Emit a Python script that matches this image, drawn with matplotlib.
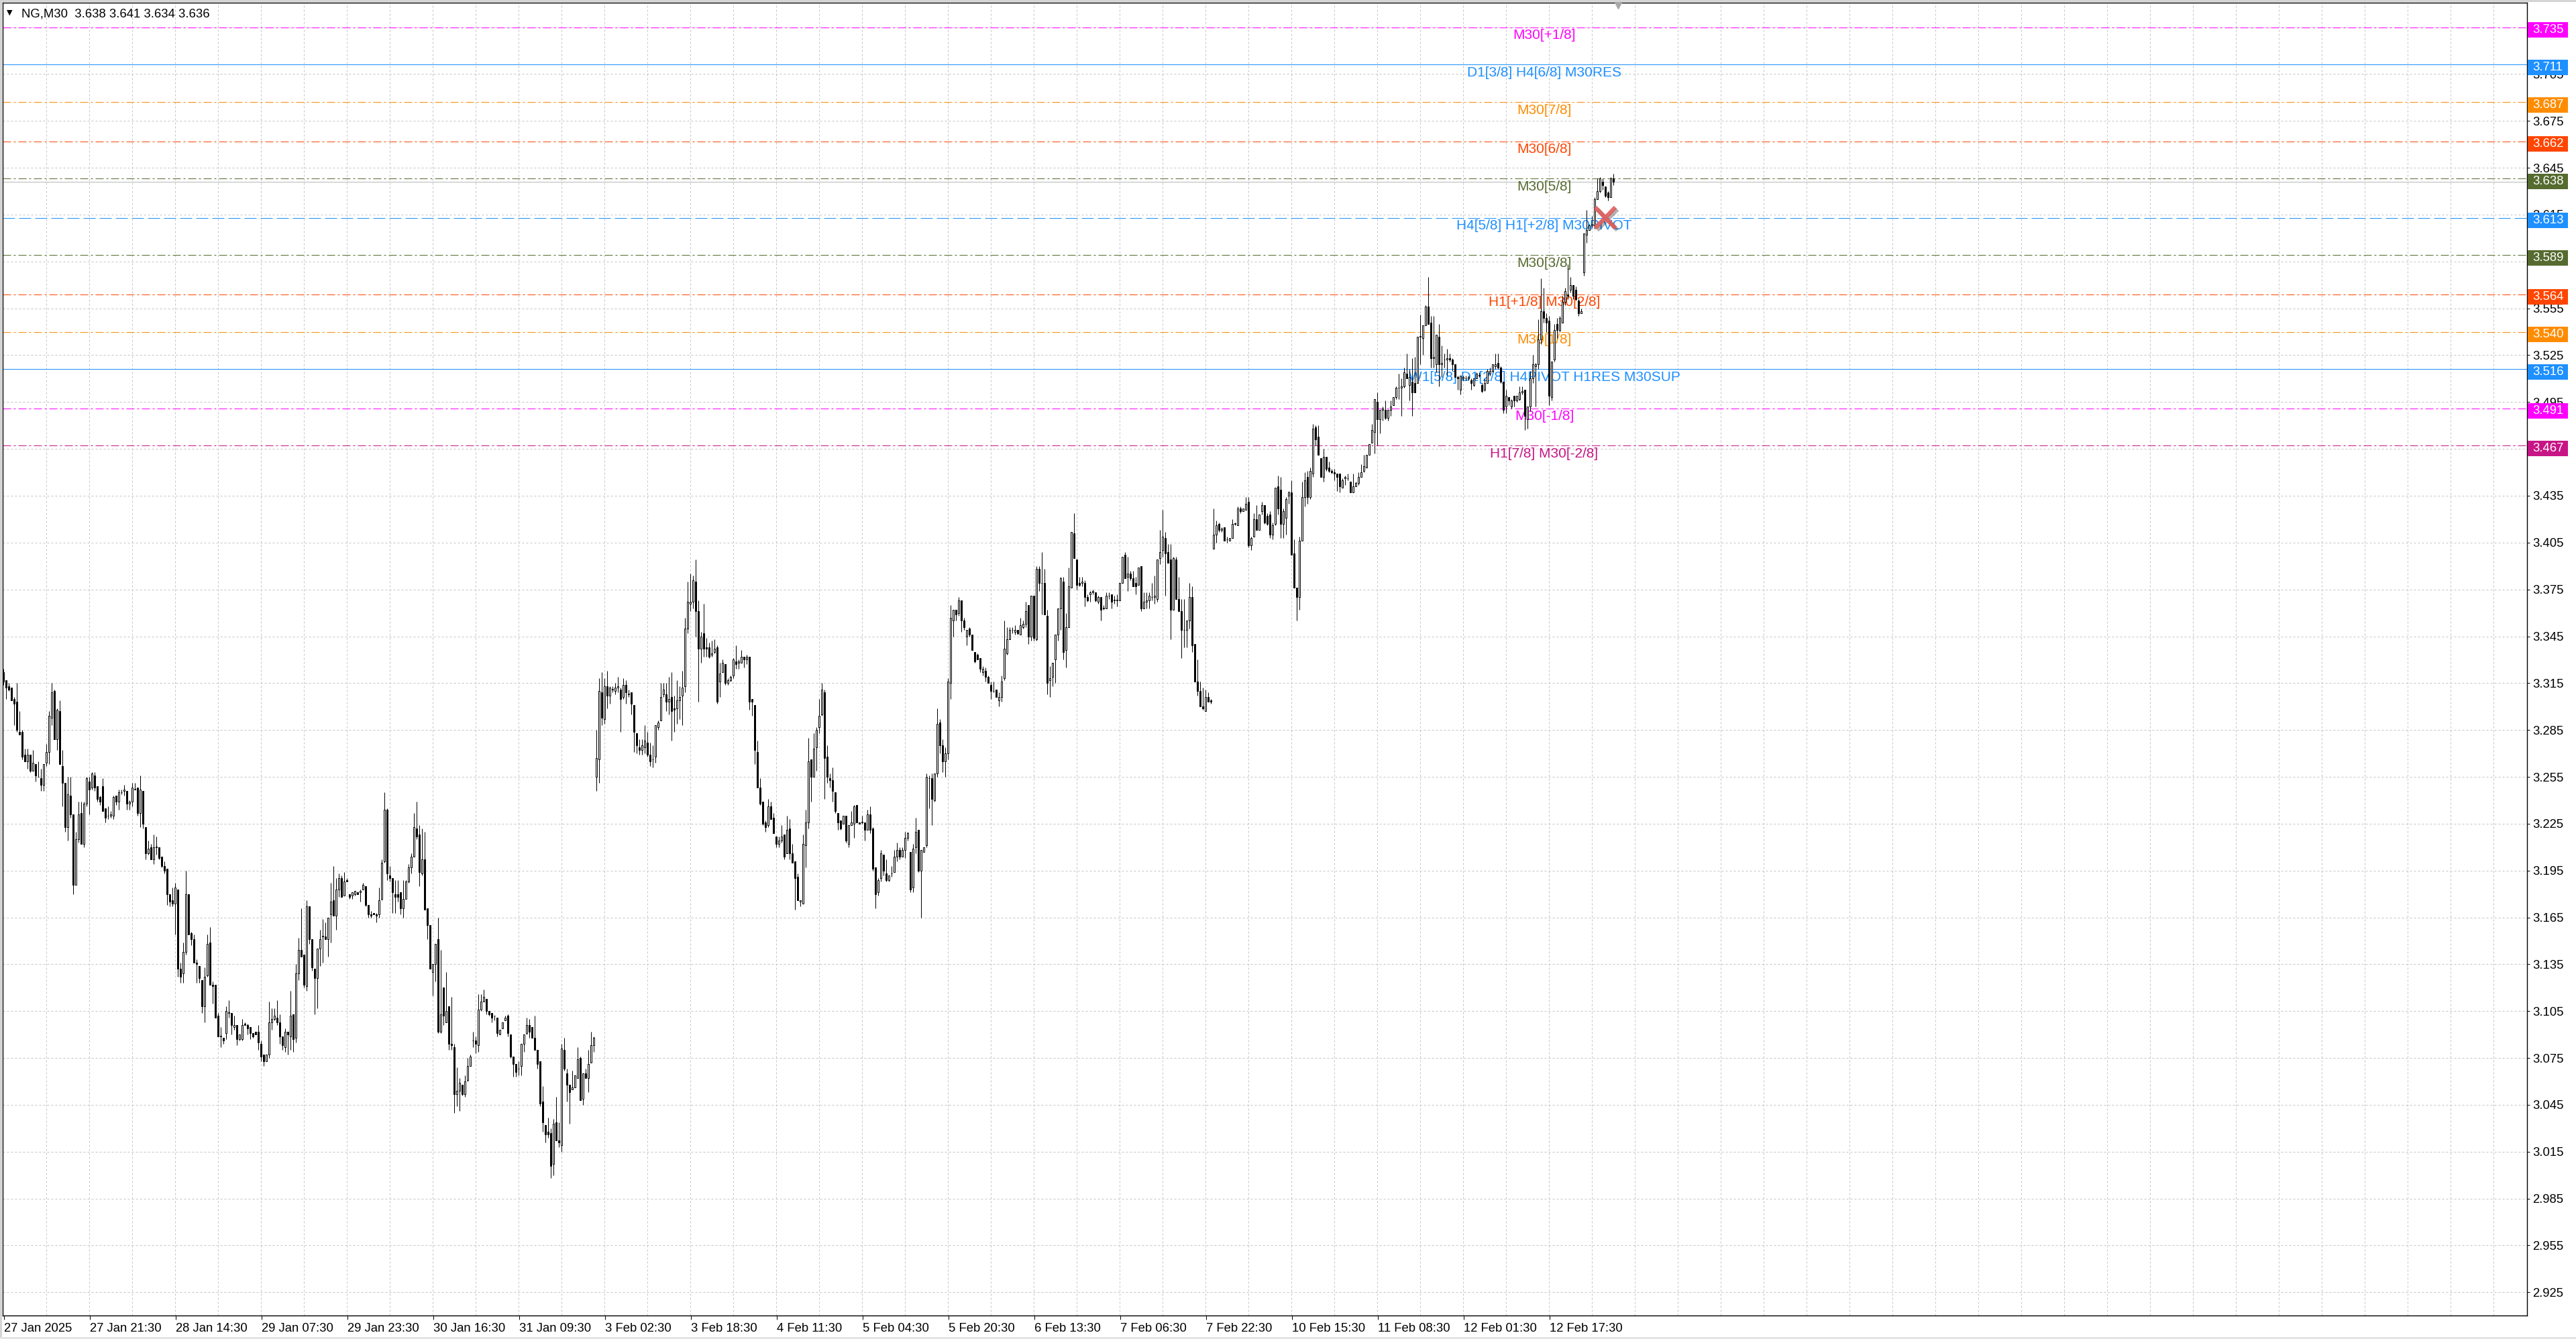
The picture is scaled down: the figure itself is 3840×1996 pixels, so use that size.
import numpy as np
import matplotlib
matplotlib.use("Agg")
import matplotlib.pyplot as plt
import matplotlib.patheffects as pe
from matplotlib.patches import Rectangle

plt.rcParams["font.family"] = ["Liberation Sans", "DejaVu Sans"]
plt.rcParams["lines.scale_dashes"] = False

# NG, M30 bars (one value per bar, 10 per row)
opens = [
    3.322, 3.317, 3.313, 3.312, 3.305, 3.303, 3.284, 3.284, 3.269, 3.265,
    3.269, 3.259, 3.263, 3.255, 3.254, 3.250, 3.264, 3.271, 3.293, 3.310,
    3.279, 3.297, 3.262, 3.251, 3.223, 3.243, 3.231, 3.186, 3.215, 3.232,
    3.212, 3.238, 3.252, 3.248, 3.256, 3.249, 3.242, 3.249, 3.235, 3.230,
    3.230, 3.230, 3.243, 3.239, 3.245, 3.246, 3.246, 3.238, 3.239, 3.247,
    3.248, 3.232, 3.246, 3.223, 3.206, 3.210, 3.202, 3.210, 3.210, 3.204,
    3.198, 3.196, 3.180, 3.176, 3.174, 3.183, 3.132, 3.129, 3.143, 3.180,
    3.155, 3.151, 3.136, 3.134, 3.125, 3.108, 3.128, 3.149, 3.122, 3.122,
    3.102, 3.089, 3.088, 3.091, 3.104, 3.104, 3.095, 3.096, 3.087, 3.087,
    3.097, 3.096, 3.095, 3.091, 3.092, 3.092, 3.084, 3.077, 3.073, 3.077,
    3.098, 3.100, 3.101, 3.098, 3.089, 3.082, 3.092, 3.089, 3.103, 3.088,
    3.129, 3.144, 3.141, 3.121, 3.172, 3.151, 3.132, 3.126, 3.145, 3.153,
    3.153, 3.151, 3.167, 3.176, 3.166, 3.183, 3.190, 3.179, 3.189, 3.180,
    3.179, 3.180, 3.181, 3.181, 3.183, 3.185, 3.173, 3.167, 3.168, 3.167,
    3.167, 3.177, 3.201, 3.234, 3.192, 3.190, 3.180, 3.180, 3.181, 3.171,
    3.177, 3.188, 3.197, 3.204, 3.222, 3.218, 3.193, 3.202, 3.171, 3.160,
    3.130, 3.135, 3.151, 3.092, 3.120, 3.098, 3.108, 3.084, 3.082, 3.052,
    3.054, 3.058, 3.052, 3.061, 3.070, 3.086, 3.086, 3.083, 3.106, 3.111,
    3.113, 3.105, 3.104, 3.102, 3.101, 3.090, 3.094, 3.099, 3.102, 3.090,
    3.076, 3.071, 3.068, 3.070, 3.084, 3.091, 3.096, 3.095, 3.088, 3.080,
    3.073, 3.047, 3.032, 3.028, 3.027, 3.007, 3.034, 3.022, 3.019, 3.080,
    3.065, 3.058, 3.055, 3.056, 3.062, 3.075, 3.049, 3.065, 3.062, 3.072,
    3.083, 3.255, 3.266, 3.309, 3.292, 3.313, 3.307, 3.311, 3.310, 3.312,
    3.311, 3.306, 3.314, 3.308, 3.309, 3.301, 3.283, 3.274, 3.272, 3.274,
    3.277, 3.269, 3.266, 3.268, 3.287, 3.291, 3.308, 3.308, 3.303, 3.306,
    3.299, 3.299, 3.304, 3.307, 3.313, 3.350, 3.366, 3.367, 3.380, 3.361,
    3.337, 3.347, 3.338, 3.338, 3.333, 3.335, 3.338, 3.316, 3.322, 3.327,
    3.315, 3.317, 3.320, 3.329, 3.328, 3.328, 3.332, 3.330, 3.332, 3.305,
    3.301, 3.271, 3.248, 3.239, 3.226, 3.224, 3.236, 3.229, 3.217, 3.212,
    3.214, 3.218, 3.206, 3.222, 3.206, 3.201, 3.191, 3.175, 3.174, 3.211,
    3.226, 3.266, 3.255, 3.274, 3.287, 3.295, 3.309, 3.268, 3.254, 3.253,
    3.245, 3.232, 3.227, 3.225, 3.230, 3.212, 3.224, 3.225, 3.237, 3.226,
    3.226, 3.226, 3.221, 3.231, 3.222, 3.197, 3.181, 3.190, 3.205, 3.193,
    3.189, 3.193, 3.194, 3.204, 3.208, 3.204, 3.208, 3.216, 3.207, 3.184,
    3.210, 3.221, 3.195, 3.207, 3.211, 3.254, 3.254, 3.240, 3.257, 3.290,
    3.275, 3.265, 3.270, 3.315, 3.355, 3.362, 3.360, 3.368, 3.355, 3.345,
    3.350, 3.346, 3.335, 3.333, 3.331, 3.322, 3.323, 3.319, 3.314, 3.310,
    3.311, 3.304, 3.306, 3.318, 3.334, 3.343, 3.349, 3.348, 3.349, 3.346,
    3.351, 3.353, 3.365, 3.345, 3.371, 3.343, 3.388, 3.379, 3.379, 3.358,
    3.317, 3.319, 3.330, 3.346, 3.363, 3.380, 3.336, 3.351, 3.376, 3.411,
    3.394, 3.379, 3.379, 3.379, 3.370, 3.372, 3.373, 3.373, 3.367, 3.370,
    3.363, 3.363, 3.371, 3.372, 3.368, 3.368, 3.368, 3.379, 3.397, 3.383,
    3.385, 3.382, 3.379, 3.378, 3.390, 3.363, 3.367, 3.368, 3.370, 3.370,
    3.369, 3.395, 3.400, 3.408, 3.399, 3.394, 3.362, 3.394, 3.369, 3.361,
    3.349, 3.349, 3.355, 3.370, 3.340, 3.316, 3.310, 3.300, 3.297, 3.306,
    3.304, 3.401, 3.410, 3.417, 3.413, 3.415, 3.407, 3.406, 3.408, 3.417,
    3.416, 3.427, 3.425, 3.426, 3.431, 3.403, 3.409, 3.420, 3.413, 3.425,
    3.429, 3.422, 3.423, 3.410, 3.417, 3.441, 3.439, 3.417, 3.421, 3.435,
    3.437, 3.398, 3.376, 3.370, 3.406, 3.434, 3.447, 3.434, 3.449, 3.479,
    3.473, 3.459, 3.447, 3.460, 3.453, 3.451, 3.450, 3.449, 3.449, 3.440,
    3.446, 3.446, 3.444, 3.437, 3.441, 3.443, 3.447, 3.451, 3.453, 3.461,
    3.469, 3.476, 3.495, 3.484, 3.490, 3.490, 3.485, 3.490, 3.493, 3.498,
    3.504, 3.504, 3.505, 3.513, 3.506, 3.508, 3.507, 3.507, 3.537, 3.536,
    3.544, 3.556, 3.546, 3.523, 3.519, 3.537, 3.519, 3.522, 3.522, 3.523,
    3.522, 3.519, 3.511, 3.503, 3.510, 3.510, 3.510, 3.509, 3.506, 3.510,
    3.512, 3.506, 3.503, 3.507, 3.513, 3.515, 3.518, 3.520, 3.517, 3.508,
    3.492, 3.498, 3.492, 3.499, 3.496, 3.497, 3.501, 3.503, 3.484, 3.492,
    3.510, 3.518, 3.519, 3.535, 3.553, 3.549, 3.547, 3.498, 3.522, 3.545,
    3.541, 3.546, 3.559, 3.564, 3.567, 3.570, 3.567, 3.560, 3.552, 3.578,
    3.602, 3.605, 3.608, 3.608, 3.625, 3.630, 3.636, 3.633, 3.629, 3.626,
    3.638,
]
highs = [
    3.324, 3.317, 3.315, 3.312, 3.306, 3.315, 3.297, 3.285, 3.273, 3.273,
    3.269, 3.272, 3.263, 3.265, 3.260, 3.263, 3.276, 3.297, 3.315, 3.311,
    3.299, 3.304, 3.272, 3.251, 3.255, 3.255, 3.231, 3.220, 3.239, 3.239,
    3.239, 3.255, 3.255, 3.258, 3.258, 3.249, 3.243, 3.254, 3.235, 3.236,
    3.233, 3.243, 3.243, 3.247, 3.247, 3.250, 3.246, 3.240, 3.251, 3.251,
    3.248, 3.256, 3.246, 3.223, 3.214, 3.212, 3.218, 3.217, 3.210, 3.204,
    3.201, 3.196, 3.180, 3.184, 3.187, 3.183, 3.136, 3.149, 3.195, 3.180,
    3.156, 3.154, 3.138, 3.134, 3.125, 3.133, 3.154, 3.159, 3.124, 3.122,
    3.104, 3.095, 3.088, 3.108, 3.112, 3.104, 3.102, 3.096, 3.090, 3.100,
    3.098, 3.097, 3.095, 3.091, 3.092, 3.096, 3.086, 3.077, 3.077, 3.111,
    3.107, 3.107, 3.112, 3.103, 3.089, 3.094, 3.092, 3.118, 3.103, 3.135,
    3.152, 3.171, 3.141, 3.176, 3.172, 3.151, 3.132, 3.145, 3.157, 3.164,
    3.162, 3.165, 3.187, 3.198, 3.190, 3.193, 3.192, 3.194, 3.190, 3.180,
    3.181, 3.182, 3.181, 3.183, 3.187, 3.185, 3.173, 3.169, 3.168, 3.168,
    3.184, 3.202, 3.245, 3.235, 3.198, 3.190, 3.189, 3.189, 3.181, 3.189,
    3.189, 3.199, 3.206, 3.232, 3.239, 3.224, 3.222, 3.220, 3.171, 3.160,
    3.135, 3.148, 3.165, 3.144, 3.120, 3.130, 3.108, 3.114, 3.084, 3.069,
    3.062, 3.058, 3.064, 3.075, 3.077, 3.092, 3.089, 3.116, 3.116, 3.119,
    3.113, 3.105, 3.104, 3.102, 3.101, 3.093, 3.098, 3.102, 3.103, 3.090,
    3.076, 3.071, 3.073, 3.084, 3.090, 3.101, 3.100, 3.095, 3.102, 3.080,
    3.073, 3.057, 3.032, 3.037, 3.030, 3.036, 3.050, 3.034, 3.084, 3.088,
    3.068, 3.058, 3.067, 3.064, 3.082, 3.076, 3.065, 3.068, 3.080, 3.092,
    3.089, 3.285, 3.318, 3.322, 3.318, 3.323, 3.313, 3.313, 3.315, 3.319,
    3.312, 3.318, 3.317, 3.311, 3.309, 3.301, 3.283, 3.279, 3.279, 3.288,
    3.284, 3.277, 3.275, 3.288, 3.291, 3.315, 3.315, 3.315, 3.319, 3.322,
    3.307, 3.317, 3.313, 3.323, 3.357, 3.380, 3.385, 3.384, 3.394, 3.368,
    3.348, 3.366, 3.344, 3.341, 3.342, 3.343, 3.339, 3.328, 3.330, 3.327,
    3.318, 3.320, 3.331, 3.339, 3.330, 3.336, 3.332, 3.333, 3.332, 3.305,
    3.301, 3.278, 3.254, 3.239, 3.227, 3.241, 3.239, 3.232, 3.217, 3.217,
    3.224, 3.218, 3.230, 3.228, 3.212, 3.201, 3.193, 3.176, 3.218, 3.234,
    3.280, 3.266, 3.283, 3.287, 3.305, 3.315, 3.311, 3.275, 3.257, 3.261,
    3.245, 3.232, 3.227, 3.230, 3.230, 3.224, 3.233, 3.237, 3.237, 3.226,
    3.230, 3.226, 3.234, 3.236, 3.223, 3.197, 3.190, 3.208, 3.205, 3.202,
    3.192, 3.198, 3.208, 3.213, 3.210, 3.210, 3.220, 3.220, 3.207, 3.212,
    3.229, 3.221, 3.208, 3.210, 3.257, 3.256, 3.257, 3.257, 3.299, 3.292,
    3.279, 3.274, 3.318, 3.365, 3.362, 3.362, 3.370, 3.368, 3.357, 3.349,
    3.351, 3.346, 3.335, 3.334, 3.331, 3.326, 3.325, 3.320, 3.316, 3.316,
    3.311, 3.309, 3.320, 3.355, 3.351, 3.351, 3.351, 3.352, 3.349, 3.357,
    3.355, 3.367, 3.365, 3.371, 3.371, 3.390, 3.390, 3.399, 3.388, 3.362,
    3.326, 3.328, 3.346, 3.363, 3.383, 3.383, 3.360, 3.389, 3.412, 3.424,
    3.394, 3.383, 3.383, 3.381, 3.372, 3.374, 3.375, 3.373, 3.371, 3.370,
    3.365, 3.373, 3.373, 3.372, 3.371, 3.372, 3.379, 3.396, 3.399, 3.396,
    3.387, 3.387, 3.383, 3.389, 3.390, 3.373, 3.373, 3.373, 3.379, 3.384,
    3.394, 3.413, 3.426, 3.412, 3.404, 3.404, 3.396, 3.396, 3.383, 3.369,
    3.369, 3.355, 3.379, 3.377, 3.340, 3.330, 3.316, 3.312, 3.311, 3.309,
    3.305, 3.427, 3.419, 3.418, 3.415, 3.415, 3.409, 3.408, 3.420, 3.418,
    3.428, 3.428, 3.427, 3.434, 3.434, 3.409, 3.424, 3.429, 3.423, 3.431,
    3.429, 3.424, 3.425, 3.418, 3.440, 3.448, 3.447, 3.427, 3.434, 3.438,
    3.445, 3.407, 3.376, 3.409, 3.444, 3.450, 3.451, 3.453, 3.481, 3.480,
    3.480, 3.459, 3.465, 3.460, 3.457, 3.452, 3.452, 3.449, 3.449, 3.446,
    3.448, 3.449, 3.444, 3.449, 3.444, 3.450, 3.455, 3.461, 3.461, 3.468,
    3.481, 3.497, 3.501, 3.490, 3.492, 3.496, 3.490, 3.496, 3.498, 3.505,
    3.513, 3.510, 3.517, 3.526, 3.516, 3.523, 3.524, 3.537, 3.551, 3.544,
    3.557, 3.575, 3.550, 3.550, 3.538, 3.545, 3.531, 3.526, 3.529, 3.526,
    3.523, 3.519, 3.512, 3.512, 3.512, 3.512, 3.512, 3.510, 3.510, 3.514,
    3.514, 3.507, 3.510, 3.516, 3.517, 3.519, 3.526, 3.526, 3.518, 3.508,
    3.503, 3.498, 3.497, 3.499, 3.499, 3.505, 3.505, 3.503, 3.492, 3.515,
    3.525, 3.520, 3.548, 3.574, 3.568, 3.552, 3.550, 3.521, 3.545, 3.549,
    3.550, 3.563, 3.568, 3.583, 3.575, 3.570, 3.569, 3.561, 3.555, 3.603,
    3.618, 3.609, 3.614, 3.626, 3.638, 3.639, 3.638, 3.633, 3.630, 3.639,
    3.641,
]
lows = [
    3.314, 3.305, 3.310, 3.304, 3.288, 3.284, 3.282, 3.266, 3.265, 3.260,
    3.258, 3.259, 3.252, 3.255, 3.246, 3.246, 3.262, 3.263, 3.288, 3.279,
    3.272, 3.263, 3.236, 3.220, 3.214, 3.229, 3.180, 3.186, 3.213, 3.212,
    3.210, 3.236, 3.231, 3.247, 3.246, 3.239, 3.237, 3.233, 3.226, 3.228,
    3.229, 3.228, 3.237, 3.234, 3.244, 3.243, 3.234, 3.234, 3.236, 3.247,
    3.230, 3.223, 3.222, 3.202, 3.205, 3.202, 3.199, 3.205, 3.202, 3.197,
    3.193, 3.173, 3.172, 3.172, 3.154, 3.127, 3.123, 3.123, 3.141, 3.154,
    3.147, 3.136, 3.123, 3.123, 3.104, 3.098, 3.127, 3.122, 3.110, 3.101,
    3.089, 3.082, 3.084, 3.087, 3.101, 3.090, 3.093, 3.083, 3.086, 3.086,
    3.096, 3.090, 3.087, 3.088, 3.090, 3.080, 3.073, 3.070, 3.073, 3.075,
    3.093, 3.099, 3.096, 3.084, 3.080, 3.079, 3.077, 3.080, 3.079, 3.085,
    3.125, 3.140, 3.120, 3.118, 3.148, 3.131, 3.103, 3.107, 3.134, 3.136,
    3.151, 3.140, 3.149, 3.166, 3.157, 3.178, 3.178, 3.179, 3.188, 3.177,
    3.177, 3.179, 3.180, 3.175, 3.183, 3.172, 3.165, 3.165, 3.167, 3.162,
    3.165, 3.176, 3.200, 3.189, 3.188, 3.168, 3.168, 3.175, 3.167, 3.165,
    3.177, 3.187, 3.193, 3.204, 3.215, 3.185, 3.192, 3.170, 3.151, 3.132,
    3.115, 3.124, 3.091, 3.091, 3.096, 3.098, 3.080, 3.080, 3.040, 3.044,
    3.041, 3.051, 3.050, 3.060, 3.070, 3.082, 3.078, 3.079, 3.105, 3.111,
    3.103, 3.102, 3.098, 3.099, 3.089, 3.090, 3.094, 3.099, 3.089, 3.075,
    3.063, 3.063, 3.064, 3.064, 3.079, 3.090, 3.088, 3.088, 3.080, 3.068,
    3.044, 3.028, 3.021, 3.024, 2.998, 3.000, 3.022, 3.018, 3.015, 3.067,
    3.047, 3.033, 3.055, 3.056, 3.062, 3.048, 3.045, 3.062, 3.053, 3.072,
    3.079, 3.246, 3.251, 3.288, 3.289, 3.299, 3.302, 3.309, 3.308, 3.309,
    3.284, 3.305, 3.302, 3.306, 3.295, 3.271, 3.270, 3.269, 3.269, 3.270,
    3.268, 3.262, 3.261, 3.264, 3.285, 3.291, 3.306, 3.297, 3.295, 3.278,
    3.284, 3.289, 3.292, 3.288, 3.309, 3.347, 3.361, 3.363, 3.345, 3.303,
    3.328, 3.332, 3.332, 3.331, 3.332, 3.334, 3.302, 3.306, 3.322, 3.314,
    3.314, 3.316, 3.318, 3.324, 3.324, 3.328, 3.325, 3.327, 3.298, 3.294,
    3.263, 3.248, 3.237, 3.224, 3.220, 3.223, 3.228, 3.219, 3.210, 3.210,
    3.213, 3.202, 3.206, 3.202, 3.200, 3.170, 3.176, 3.172, 3.174, 3.197,
    3.222, 3.239, 3.255, 3.259, 3.283, 3.294, 3.241, 3.251, 3.248, 3.239,
    3.232, 3.221, 3.221, 3.225, 3.213, 3.210, 3.224, 3.216, 3.226, 3.225,
    3.225, 3.214, 3.221, 3.219, 3.195, 3.171, 3.179, 3.188, 3.192, 3.188,
    3.188, 3.191, 3.194, 3.201, 3.202, 3.204, 3.203, 3.214, 3.181, 3.181,
    3.206, 3.194, 3.165, 3.207, 3.210, 3.235, 3.224, 3.239, 3.255, 3.270,
    3.258, 3.255, 3.266, 3.305, 3.345, 3.355, 3.358, 3.348, 3.349, 3.339,
    3.345, 3.336, 3.328, 3.330, 3.322, 3.320, 3.316, 3.315, 3.305, 3.309,
    3.306, 3.300, 3.303, 3.317, 3.333, 3.343, 3.347, 3.346, 3.346, 3.346,
    3.350, 3.351, 3.340, 3.342, 3.342, 3.342, 3.374, 3.359, 3.359, 3.308,
    3.306, 3.313, 3.315, 3.342, 3.349, 3.330, 3.325, 3.351, 3.376, 3.395,
    3.375, 3.377, 3.377, 3.364, 3.367, 3.367, 3.372, 3.367, 3.366, 3.355,
    3.362, 3.363, 3.369, 3.363, 3.366, 3.364, 3.368, 3.379, 3.382, 3.374,
    3.381, 3.377, 3.372, 3.378, 3.361, 3.363, 3.363, 3.363, 3.368, 3.366,
    3.367, 3.391, 3.396, 3.371, 3.392, 3.343, 3.362, 3.369, 3.361, 3.331,
    3.338, 3.338, 3.350, 3.335, 3.316, 3.307, 3.300, 3.298, 3.297, 3.303,
    3.302, 3.401, 3.405, 3.412, 3.412, 3.406, 3.405, 3.406, 3.408, 3.416,
    3.416, 3.424, 3.425, 3.426, 3.402, 3.400, 3.409, 3.413, 3.413, 3.423,
    3.417, 3.416, 3.408, 3.407, 3.416, 3.423, 3.408, 3.408, 3.410, 3.430,
    3.397, 3.376, 3.355, 3.362, 3.406, 3.428, 3.430, 3.433, 3.447, 3.467,
    3.461, 3.447, 3.444, 3.451, 3.450, 3.449, 3.445, 3.438, 3.437, 3.440,
    3.442, 3.445, 3.437, 3.437, 3.441, 3.442, 3.447, 3.450, 3.453, 3.461,
    3.469, 3.462, 3.467, 3.475, 3.483, 3.484, 3.483, 3.486, 3.493, 3.497,
    3.497, 3.486, 3.504, 3.510, 3.496, 3.486, 3.501, 3.507, 3.519, 3.525,
    3.544, 3.545, 3.517, 3.517, 3.514, 3.505, 3.511, 3.517, 3.512, 3.521,
    3.515, 3.511, 3.503, 3.500, 3.509, 3.509, 3.509, 3.503, 3.505, 3.510,
    3.511, 3.501, 3.502, 3.507, 3.512, 3.514, 3.516, 3.516, 3.507, 3.488,
    3.488, 3.493, 3.491, 3.492, 3.495, 3.496, 3.500, 3.477, 3.478, 3.489,
    3.507, 3.492, 3.516, 3.532, 3.546, 3.540, 3.493, 3.496, 3.521, 3.536,
    3.540, 3.546, 3.557, 3.561, 3.565, 3.561, 3.560, 3.550, 3.552, 3.576,
    3.597, 3.605, 3.607, 3.606, 3.625, 3.629, 3.631, 3.626, 3.624, 3.626,
    3.634,
]
closes = [
    3.316, 3.312, 3.311, 3.304, 3.302, 3.285, 3.282, 3.268, 3.265, 3.269,
    3.259, 3.264, 3.256, 3.255, 3.250, 3.263, 3.271, 3.294, 3.309, 3.279,
    3.298, 3.263, 3.251, 3.223, 3.244, 3.231, 3.186, 3.215, 3.231, 3.212,
    3.238, 3.254, 3.247, 3.257, 3.248, 3.241, 3.239, 3.233, 3.229, 3.230,
    3.231, 3.242, 3.239, 3.245, 3.245, 3.247, 3.238, 3.239, 3.248, 3.247,
    3.232, 3.247, 3.225, 3.206, 3.209, 3.202, 3.210, 3.210, 3.203, 3.198,
    3.195, 3.180, 3.175, 3.174, 3.184, 3.132, 3.127, 3.143, 3.180, 3.154,
    3.151, 3.136, 3.135, 3.126, 3.108, 3.127, 3.148, 3.122, 3.121, 3.101,
    3.089, 3.089, 3.086, 3.105, 3.104, 3.096, 3.096, 3.087, 3.090, 3.096,
    3.096, 3.094, 3.091, 3.089, 3.090, 3.085, 3.076, 3.073, 3.077, 3.098,
    3.100, 3.102, 3.098, 3.089, 3.083, 3.092, 3.090, 3.102, 3.087, 3.129,
    3.144, 3.140, 3.122, 3.172, 3.151, 3.133, 3.126, 3.145, 3.151, 3.153,
    3.151, 3.165, 3.175, 3.166, 3.183, 3.190, 3.178, 3.188, 3.188, 3.178,
    3.181, 3.182, 3.180, 3.182, 3.186, 3.173, 3.167, 3.166, 3.167, 3.166,
    3.176, 3.200, 3.234, 3.193, 3.190, 3.181, 3.178, 3.178, 3.171, 3.177,
    3.188, 3.197, 3.204, 3.223, 3.217, 3.194, 3.202, 3.170, 3.160, 3.132,
    3.135, 3.148, 3.092, 3.103, 3.102, 3.105, 3.084, 3.083, 3.052, 3.054,
    3.059, 3.052, 3.060, 3.070, 3.076, 3.086, 3.084, 3.106, 3.111, 3.114,
    3.105, 3.103, 3.101, 3.102, 3.091, 3.093, 3.098, 3.101, 3.091, 3.076,
    3.071, 3.066, 3.068, 3.084, 3.090, 3.096, 3.092, 3.088, 3.080, 3.071,
    3.046, 3.034, 3.026, 3.026, 3.006, 3.033, 3.022, 3.021, 3.081, 3.068,
    3.058, 3.053, 3.056, 3.064, 3.074, 3.048, 3.065, 3.062, 3.071, 3.083,
    3.088, 3.267, 3.310, 3.293, 3.313, 3.307, 3.312, 3.311, 3.312, 3.313,
    3.305, 3.314, 3.309, 3.308, 3.302, 3.284, 3.275, 3.272, 3.275, 3.278,
    3.269, 3.265, 3.266, 3.288, 3.290, 3.306, 3.311, 3.303, 3.305, 3.297,
    3.298, 3.304, 3.306, 3.312, 3.350, 3.367, 3.367, 3.381, 3.361, 3.337,
    3.345, 3.337, 3.337, 3.332, 3.334, 3.337, 3.303, 3.321, 3.328, 3.315,
    3.317, 3.319, 3.330, 3.327, 3.329, 3.332, 3.330, 3.332, 3.303, 3.303,
    3.272, 3.248, 3.238, 3.225, 3.223, 3.236, 3.228, 3.219, 3.212, 3.214,
    3.217, 3.204, 3.221, 3.206, 3.200, 3.190, 3.176, 3.176, 3.212, 3.226,
    3.265, 3.255, 3.273, 3.285, 3.294, 3.311, 3.267, 3.255, 3.253, 3.246,
    3.233, 3.226, 3.222, 3.230, 3.214, 3.224, 3.226, 3.236, 3.226, 3.225,
    3.226, 3.221, 3.231, 3.221, 3.196, 3.180, 3.189, 3.206, 3.195, 3.189,
    3.192, 3.193, 3.204, 3.208, 3.204, 3.208, 3.216, 3.219, 3.183, 3.209,
    3.220, 3.195, 3.208, 3.210, 3.255, 3.254, 3.241, 3.257, 3.289, 3.275,
    3.265, 3.270, 3.316, 3.357, 3.362, 3.359, 3.368, 3.355, 3.351, 3.349,
    3.346, 3.336, 3.329, 3.330, 3.324, 3.324, 3.319, 3.315, 3.310, 3.310,
    3.306, 3.306, 3.316, 3.337, 3.343, 3.349, 3.349, 3.349, 3.347, 3.352,
    3.353, 3.361, 3.345, 3.371, 3.344, 3.388, 3.379, 3.379, 3.359, 3.315,
    3.318, 3.328, 3.346, 3.363, 3.382, 3.335, 3.351, 3.377, 3.412, 3.395,
    3.378, 3.378, 3.380, 3.370, 3.368, 3.373, 3.374, 3.368, 3.370, 3.362,
    3.363, 3.371, 3.371, 3.367, 3.368, 3.368, 3.379, 3.396, 3.382, 3.385,
    3.382, 3.377, 3.377, 3.389, 3.363, 3.367, 3.368, 3.371, 3.370, 3.371,
    3.394, 3.399, 3.409, 3.398, 3.392, 3.362, 3.395, 3.369, 3.361, 3.349,
    3.349, 3.355, 3.370, 3.339, 3.316, 3.310, 3.300, 3.299, 3.306, 3.303,
    3.303, 3.410, 3.416, 3.413, 3.414, 3.406, 3.407, 3.408, 3.417, 3.417,
    3.427, 3.425, 3.427, 3.430, 3.403, 3.408, 3.420, 3.413, 3.423, 3.429,
    3.418, 3.417, 3.410, 3.416, 3.440, 3.427, 3.417, 3.425, 3.433, 3.437,
    3.397, 3.376, 3.370, 3.406, 3.434, 3.445, 3.434, 3.451, 3.478, 3.471,
    3.461, 3.447, 3.460, 3.452, 3.451, 3.450, 3.449, 3.447, 3.441, 3.445,
    3.447, 3.446, 3.437, 3.441, 3.443, 3.447, 3.450, 3.454, 3.461, 3.468,
    3.477, 3.497, 3.484, 3.490, 3.491, 3.485, 3.490, 3.492, 3.498, 3.504,
    3.504, 3.505, 3.514, 3.510, 3.511, 3.501, 3.501, 3.537, 3.537, 3.544,
    3.556, 3.545, 3.523, 3.524, 3.538, 3.519, 3.520, 3.522, 3.523, 3.522,
    3.519, 3.511, 3.510, 3.512, 3.511, 3.510, 3.511, 3.507, 3.510, 3.513,
    3.512, 3.502, 3.507, 3.515, 3.515, 3.519, 3.519, 3.517, 3.508, 3.490,
    3.499, 3.496, 3.496, 3.496, 3.499, 3.501, 3.502, 3.486, 3.492, 3.510,
    3.519, 3.519, 3.535, 3.553, 3.549, 3.546, 3.499, 3.521, 3.541, 3.541,
    3.549, 3.559, 3.566, 3.563, 3.570, 3.563, 3.561, 3.552, 3.553, 3.603,
    3.605, 3.608, 3.609, 3.625, 3.630, 3.638, 3.634, 3.627, 3.626, 3.638,
    3.636,
]

time_labels = ["27 Jan 2025", "27 Jan 21:30", "28 Jan 14:30", "29 Jan 07:30",
               "29 Jan 23:30", "30 Jan 16:30", "31 Jan 09:30", "3 Feb 02:30",
               "3 Feb 18:30", "4 Feb 11:30", "5 Feb 04:30", "5 Feb 20:30",
               "6 Feb 13:30", "7 Feb 06:30", "7 Feb 22:30", "10 Feb 15:30",
               "11 Feb 08:30", "12 Feb 01:30", "12 Feb 17:30"]
bars_per_label = 32

price_ticks = [2.925, 2.955, 2.985, 3.015, 3.045, 3.075, 3.105, 3.135, 3.165,
               3.195, 3.225, 3.255, 3.285, 3.315, 3.345, 3.375, 3.405, 3.435,
               3.465, 3.495, 3.525, 3.555, 3.585, 3.615, 3.645, 3.675, 3.705,
               3.735]

# Murrey math levels drawn by the indicator
levels = [3.735, 3.711, 3.687, 3.662, 3.638, 3.613, 3.589, 3.564, 3.540,
          3.516, 3.491, 3.467]
level_names = ["M30[+1/8]", "D1[3/8] H4[6/8] M30RES", "M30[7/8]", "M30[6/8]",
               "M30[5/8]", "H4[5/8] H1[+2/8] M30PIVOT", "M30[3/8]",
               "H1[+1/8] M30[2/8]", "M30[1/8]",
               "W1[5/8] D1[2/8] H4PIVOT H1RES M30SUP", "M30[-1/8]",
               "H1[7/8] M30[-2/8]"]
level_colors = ["#FF00FF", "#1E90FF", "#FF8C00", "#FF4500", "#556B2F",
                "#1E90FF", "#556B2F", "#FF4500", "#FF8C00", "#1E90FF",
                "#FF00FF", "#C71585"]
level_styles = ["dashdot", "solid", "dashdot", "dashdot", "dashdot", "dash",
                "dashdot", "dashdot", "dashdot", "solid", "dashdot", "dashdot"]

# ---------------------------------------------------------------------------
W, H = 3840, 1996
L, R, T, B = 4, 3767, 4, 1961          # plot frame in pixels
fig = plt.figure(figsize=(W / 100, H / 100), dpi=100)
fig.patch.set_facecolor("white")
ax = fig.add_axes([L / W, (H - B) / H, (R - L) / W, (B - T) / H])

ylo, yhi = 2.9101, 3.7507
ax.set_xlim(-0.25, 940.5)
ax.set_ylim(ylo, yhi)
PX = (yhi - ylo) / (B - T)              # price per pixel

px1 = 0.72                              # one pixel in points
dashes = {"solid": "-",
          "dashdot": (0, (12 * px1, 4 * px1, 3 * px1, 4 * px1)),
          "dash": (0, (18 * px1, 6 * px1))}

# grid
for p in price_ticks:
    ax.axhline(p, color="#C4C4C4", lw=px1, ls=(0, (3 * px1, 3 * px1)), zorder=0.5)
for v in range(16, 941, 16):
    ax.axvline(v, color="#C4C4C4", lw=px1, ls=(0, (3 * px1, 3 * px1)), zorder=0.5)

# levels
for lv, name, col, st in zip(levels, level_names, level_colors, level_styles):
    ax.axhline(lv, color=col, lw=px1, ls=dashes[st], zorder=1)
    ax.text(574.25, lv - 12 * PX, name, color=col, fontsize=15,
            ha="center", va="center", zorder=2)

# bid line
ax.axhline(closes[-1], color="#B8B8B8", lw=px1, zorder=1)

# candles
o = np.array(opens)
h = np.array(highs)
lo = np.array(lows)
c = np.array(closes)
x = np.arange(len(c))
hi_ = np.maximum(h, np.maximum(o, c))
lo_ = np.minimum(lo, np.minimum(o, c))
up = c >= o
body_lo = np.minimum(o, c)
body_h = np.maximum(np.abs(c - o), 0.0002)
ax.vlines(x, lo_, hi_, color="black", lw=px1, zorder=3)
ax.bar(x[up], body_h[up], bottom=body_lo[up], width=0.5, color="white",
       edgecolor="black", linewidth=px1, zorder=4)
ax.bar(x[~up], body_h[~up], bottom=body_lo[~up], width=0.5, color="black",
       edgecolor="black", linewidth=px1, zorder=4)

# red cross on the pivot
ax.plot(597, levels[5], marker="x", ms=22, mew=4.5, color="#E05C5C",
        alpha=0.9, zorder=12,
        path_effects=[pe.SimpleLineShadow(offset=(2, -2), alpha=0.3), pe.Normal()])

# chart shift marker
ax.plot(len(c) + 0.75, yhi - 3 * PX, marker="v", ms=9, color="#A8A8A8",
        clip_on=False, zorder=12)

# axes styling
for s in ax.spines.values():
    s.set_color("black")
    s.set_linewidth(1.0)

ax.yaxis.tick_right()
ax.set_yticks(price_ticks)
ax.set_yticklabels([f"{p:.3f}" for p in price_ticks])
ax.tick_params(axis="y", direction="out", length=3, width=px1, pad=3,
               labelsize=13.3, colors="black")

ax.set_xticks(np.arange(len(time_labels)) * bars_per_label + 0.35)
ax.set_xticklabels(time_labels)
for lab in ax.get_xticklabels():
    lab.set_horizontalalignment("left")
ax.tick_params(axis="x", direction="out", length=4, width=px1, pad=4,
               labelsize=13.3, colors="black")

# coloured price boxes on the right scale (sit ~4 px below their level)
tr = ax.get_yaxis_transform()
span = R - L
for lv, col in zip(levels, level_colors):
    yc = lv - 4 * PX
    ax.add_patch(Rectangle(((3768 - L) / span, yc - 11.5 * PX), 60 / span, 23 * PX,
                           transform=tr, facecolor=col, edgecolor="none",
                           clip_on=False, zorder=10))
    ax.text((3775 - L) / span, yc, f"{lv:.3f}", transform=tr, color="white",
            fontsize=13.3, ha="left", va="center", clip_on=False, zorder=11)

# header
fig.text(10 / W, 1 - 19 / H, "\u25BC", fontsize=8, va="center", ha="left",
         family=["DejaVu Sans"])
fig.text(32 / W, 1 - 26 / H,
         f"NG,M30  {o[-1]:.3f} {h[-1]:.3f} {lo[-1]:.3f} {c[-1]:.3f}",
         fontsize=13.3, va="baseline", ha="left")

# window borders
fig.add_artist(Rectangle((0, 1 - 3 / H), 1, 3 / H, transform=fig.transFigure,
                         facecolor="#D4D4D4", edgecolor="none"))
fig.add_artist(Rectangle((0, 0), 3 / W, 1, transform=fig.transFigure,
                         facecolor="#D4D4D4", edgecolor="none"))
fig.add_artist(Rectangle((0, 0), 1, 3 / H, transform=fig.transFigure,
                         facecolor="#E4E4E4", edgecolor="none"))

fig.savefig("out.png", dpi=100)
